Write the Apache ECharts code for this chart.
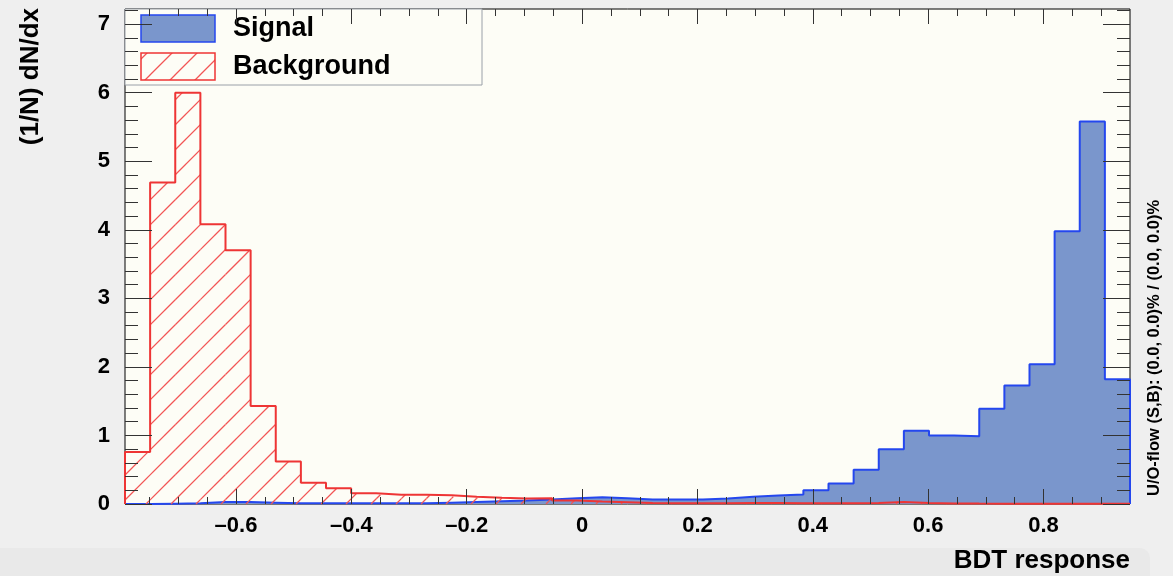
<!DOCTYPE html>
<html>
<head>
<meta charset="utf-8">
<script src="https://cdn.jsdelivr.net/npm/echarts@6/dist/echarts.min.js"></script>
<style>
  html, body { margin: 0; padding: 0; background: #efefef; }
  #chart { width: 1173px; height: 576px; }
</style>
</head>
<body>
<div id="chart"></div>
<script>
// histogram binning (BDT response range)
const XMIN = -0.7925
const XMAX = 0.95
const NBINS = 40

// normalised bin contents
const signalValues = [
  0.0, 0.005, 0.01, 0.03, 0.03, 0.02, 0.01, 0.01, 0.01, 0.01,
  0.01, 0.01, 0.02, 0.03, 0.04, 0.05, 0.065, 0.085, 0.10, 0.085,
  0.065, 0.065, 0.065, 0.08, 0.105, 0.125, 0.14, 0.20, 0.30, 0.50,
  0.80, 1.07, 1.00, 0.99, 1.39, 1.73, 2.04, 3.98, 5.58, 1.82
]
const backgroundValues = [
  0.76, 4.69, 6.00, 4.08, 3.70, 1.43, 0.62, 0.31, 0.23, 0.156,
  0.136, 0.136, 0.127, 0.107, 0.092, 0.08, 0.085, 0.05, 0.035, 0.025,
  0.015, 0.012, 0.012, 0.012, 0.015, 0.015, 0.012, 0.012, 0.012, 0.015,
  0.03, 0.015, 0.008, 0.006, 0.005, 0.004, 0.004, 0.003, 0.003, 0.002
]

const xTickLabels = [-0.6, -0.4, -0.2, 0, 0.2, 0.4, 0.6, 0.8]
const yTickLabels = [0, 1, 2, 3, 4, 5, 6, 7]
const YMAX = 7.22

const FONT = "'Liberation Sans', Arial, sans-serif"
const SIG_FILL = '#7a96cc'
const SIG_LINE = '#2447ee'
const BKG_LINE = '#ee3535'
const HATCH = '#f25555'
const HATCH_STEP = 25
const BIN_W = (XMAX - XMIN) / NBINS

// minor ticks every 0.05 in x and 0.2 in y
let xMinor = []
for (let k = -15; k <= 19; k++) xMinor.push(k * 0.05)
let yMinor = []
for (let k = 0; k <= 36; k++) yMinor.push(k * 0.2)

// red hatch pattern for the legend swatch
function hatch() {
  let c = document.createElement('canvas')
  c.width = HATCH_STEP; c.height = HATCH_STEP
  let ctx = c.getContext('2d')
  ctx.strokeStyle = HATCH
  ctx.lineWidth = 1.3
  ctx.beginPath()
  ctx.moveTo(-2, 27); ctx.lineTo(27, -2)
  ctx.moveTo(-2, 2); ctx.lineTo(2, -2)
  ctx.moveTo(23, 27); ctx.lineTo(27, 23)
  ctx.stroke()
  return c
}
const hatchCanvas = hatch()

function stepData(vals) {
  let pts = [[XMIN, 0]]
  vals.forEach((v, i) => pts.push([XMIN + i * BIN_W, v]))
  pts.push([XMAX, vals[vals.length - 1]])
  pts.push([XMAX, 0])
  return pts
}

function fmtX(v) {
  if (Math.abs(v) < 1e-9) return '0'
  return (v < 0 ? '\u2013' : '') + Math.abs(v).toFixed(1)
}

function xAx(pos, ticks, len, labels) {
  return {
    type: 'value', position: pos, min: XMIN, max: XMAX, z: 5,
    axisLine: { show: false, onZero: false },
    splitLine: { show: false },
    axisTick: { show: true, inside: true, length: len, customValues: ticks,
      lineStyle: { color: '#333', width: 1 } },
    axisLabel: labels ? {
      show: true, customValues: xTickLabels, formatter: fmtX, margin: 11,
      fontFamily: FONT, fontWeight: 'bold', fontSize: 22, color: '#000'
    } : { show: false }
  }
}
function yAx(pos, ticks, len, labels) {
  return {
    type: 'value', position: pos, min: 0, max: YMAX, z: 5,
    axisLine: { show: false, onZero: false },
    splitLine: { show: false },
    axisTick: { show: true, inside: true, length: len, customValues: ticks,
      lineStyle: { color: '#333', width: 1 } },
    axisLabel: labels ? {
      show: true, customValues: yTickLabels, margin: 15,
      fontFamily: FONT, fontWeight: 'bold', fontSize: 22, color: '#000'
    } : { show: false }
  }
}

// diagonal hatch lines clipped to one background bin
function renderHatch(params, api) {
  let lo = api.coord([api.value(0), 0])
  let hi = api.coord([api.value(1), api.value(2)])
  let x0 = lo[0], x1 = hi[0], yb = lo[1], yt = hi[1]
  let kids = []
  let cStart = Math.floor((x0 + yt) / HATCH_STEP) * HATCH_STEP
  for (let c = cStart; c <= x1 + yb + HATCH_STEP; c += HATCH_STEP) {
    let xa = Math.max(x0, c - yb)
    let xb = Math.min(x1, c - yt)
    if (xb <= xa) continue
    kids.push({
      type: 'line',
      shape: { x1: xa, y1: c - xa, x2: xb, y2: c - xb },
      style: { stroke: HATCH, lineWidth: 1.3, fill: null }
    })
  }
  return { type: 'group', children: kids }
}

let chart = echarts.init(document.getElementById('chart'))
chart.setOption({
  animation: false,
  backgroundColor: '#efefef',
  color: [SIG_LINE, HATCH, BKG_LINE],
  grid: {
    left: 125, right: 43, top: 9, bottom: 72,
    show: true, backgroundColor: '#fdfdf6', borderColor: '#000', borderWidth: 1
  },
  xAxis: [
    xAx('bottom', xTickLabels, 15, true),
    xAx('bottom', xMinor, 7, false),
    xAx('top', xTickLabels, 15, false),
    xAx('top', xMinor, 7, false)
  ],
  yAxis: [
    yAx('left', yTickLabels, 27, true),
    yAx('left', yMinor, 13, false),
    yAx('right', yTickLabels, 27, false),
    yAx('right', yMinor, 13, false)
  ],
  series: [
    {
      name: 'Signal', type: 'line', step: 'end', symbol: 'none',
      data: stepData(signalValues),
      lineStyle: { color: SIG_LINE, width: 2 },
      areaStyle: { color: SIG_FILL, opacity: 1 },
      z: 2
    },
    {
      name: 'Background hatch', type: 'custom', renderItem: renderHatch,
      itemStyle: { color: HATCH },
      data: backgroundValues.map((v, i) => [XMIN + i * BIN_W, XMIN + (i + 1) * BIN_W, v]),
      z: 3
    },
    {
      name: 'Background', type: 'line', step: 'end', symbol: 'none',
      data: stepData(backgroundValues),
      lineStyle: { color: BKG_LINE, width: 2 },
      z: 4
    }
  ],
  graphic: [
    { type: 'rect', z: -1, silent: true,
      shape: { x: 0, y: 548, width: 1150, height: 28, r: [0, 10, 0, 0] },
      style: { fill: '#e9e9e9' } },
    // legend
    { type: 'rect', z: 4, shape: { x: 125, y: 9, width: 357, height: 76 },
      style: { fill: '#fdfdf6', stroke: '#9aa0a8', lineWidth: 1 } },
    { type: 'rect', z: 4, shape: { x: 141, y: 15, width: 74, height: 27 },
      style: { fill: SIG_FILL, stroke: SIG_LINE, lineWidth: 1.5 } },
    { type: 'text', z: 4, x: 233, y: 29,
      style: { text: 'Signal', font: "bold 27px " + FONT, fill: '#000', verticalAlign: 'middle' } },
    { type: 'rect', z: 4, shape: { x: 141, y: 53, width: 74, height: 27 },
      style: { fill: { image: hatchCanvas, repeat: 'repeat' }, stroke: BKG_LINE, lineWidth: 1.5 } },
    { type: 'text', z: 4, x: 233, y: 67,
      style: { text: 'Background', font: "bold 27px " + FONT, fill: '#000', verticalAlign: 'middle' } },
    // axis titles
    { type: 'text', x: 31, y: 8, rotation: Math.PI / 2,
      style: { text: '(1/N) dN/dx', font: "bold 26px " + FONT, fill: '#000',
        align: 'right', verticalAlign: 'middle' } },
    { type: 'text', x: 1130, y: 561,
      style: { text: 'BDT response', font: "bold 26px " + FONT, fill: '#000',
        align: 'right', verticalAlign: 'middle' } },
    { type: 'text', x: 1154, y: 496, rotation: Math.PI / 2,
      style: { text: 'U/O-flow (S,B): (0.0, 0.0)% / (0.0, 0.0)%', font: "bold 16.5px " + FONT,
        fill: '#000', align: 'left', verticalAlign: 'middle' } }
  ]
})
</script>
</body>
</html>
